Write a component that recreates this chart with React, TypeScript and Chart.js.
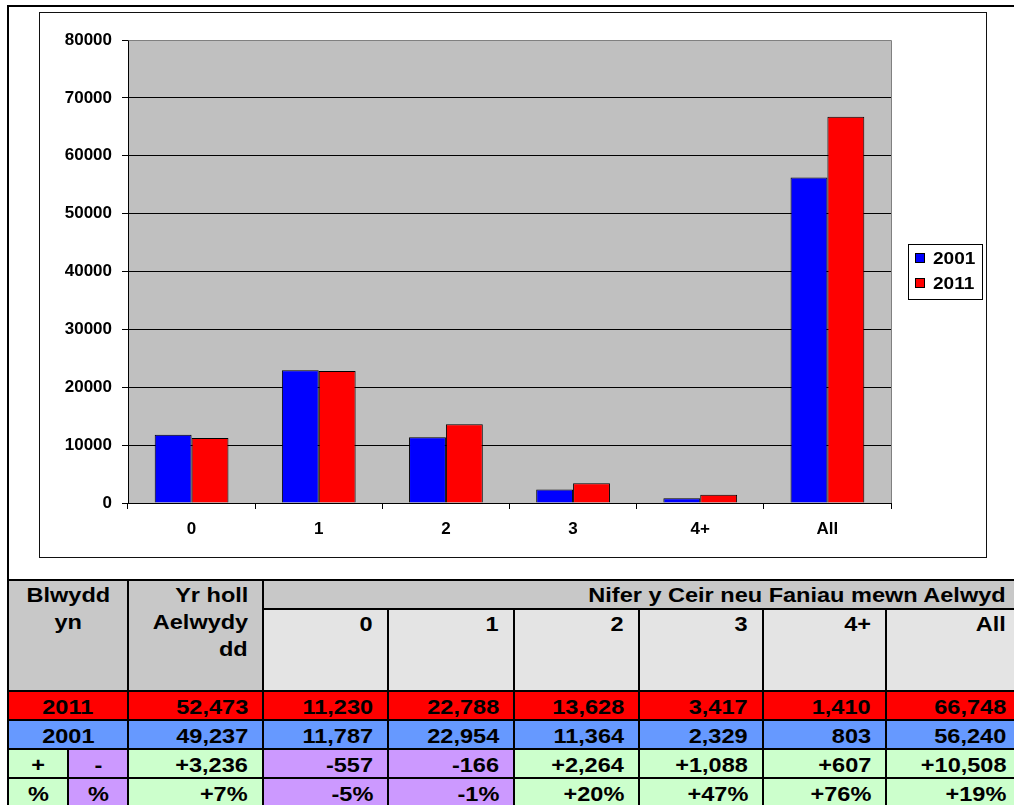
import React, { useEffect, useRef } from 'react';
import { Chart, registerables } from 'chart.js';

Chart.register(...registerables);

// ---- data ----
const categories = ['0', '1', '2', '3', '4+', 'All'];
const seriesLabels = ['2001', '2011'];
const cars2001 = [11787, 22954, 11364, 2329, 803, 56240];
const cars2011 = [11230, 22788, 13628, 3417, 1410, 66748];
const yTickMin = 0;
const yTickMax = 80000;
const yTickStep = 10000;

const households2011 = 52473;
const households2001 = 49237;
const householdsChange = 3236;
const householdsPct = 7;
const categoryChange = [-557, -166, 2264, 1088, 607, 10508];
const categoryPct = [-5, -1, 20, 47, 76, 19];

const yearHeader = ['Blwydd', 'yn'];
const householdsHeader = ['Yr holl', 'Aelwydy', 'dd'];
const carsHeader = 'Nifer y Ceir neu Faniau mewn Aelwyd';
const plusLabel = '+';
const minusLabel = '-';
const pctLabel = '%';

// ---- styles ----
const FONT = '"Liberation Sans", Arial, Helvetica, sans-serif';
const RED = '#ff0000';
const ROWBLUE = '#6699ff';
const GREEN = '#ccffcc';
const PURPLE = '#cc99ff';
const HEAD = '#c8c8c8';
const SUB = '#e4e4e4';

const fmt = (v: number) => v.toLocaleString('en-US');
const signed = (v: number) => (v > 0 ? '+' + fmt(v) : fmt(v));

const plotBackground = {
  id: 'plotBackground',
  beforeDraw(chart: any) {
    const { ctx, chartArea: a } = chart;
    ctx.save();
    ctx.fillStyle = '#c0c0c0';
    ctx.fillRect(a.left, a.top, a.right - a.left, a.bottom - a.top);
    ctx.restore();
  },
  afterDatasetsDraw(chart: any) {
    const { ctx, chartArea: a } = chart;
    ctx.save();
    ctx.strokeStyle = '#808080';
    ctx.lineWidth = 1;
    ctx.beginPath();
    ctx.moveTo(Math.round(a.left) + 0.5, Math.round(a.top) + 0.5);
    ctx.lineTo(Math.round(a.right) + 0.5, Math.round(a.top) + 0.5);
    ctx.lineTo(Math.round(a.right) + 0.5, Math.round(a.bottom));
    ctx.stroke();
    ctx.restore();
  },
};

const boxLegend = {
  id: 'boxLegend',
  afterDraw(chart: any) {
    const { ctx, chartArea: a } = chart;
    const ds = chart.data.datasets;
    const w = 74;
    const h = 55;
    const x = Math.round(a.right + 17);
    const y = Math.round((a.top + a.bottom) / 2 - h / 2);
    ctx.save();
    ctx.fillStyle = '#fff';
    ctx.fillRect(x, y, w, h);
    ctx.strokeStyle = '#000';
    ctx.lineWidth = 1;
    ctx.strokeRect(x + 0.5, y + 0.5, w, h);
    ds.forEach((d: any, i: number) => {
      const cy = y + 14 + i * 25;
      ctx.fillStyle = d.backgroundColor;
      ctx.fillRect(x + 7, cy - 5, 10, 10);
      ctx.strokeStyle = '#000';
      ctx.strokeRect(x + 7.5, cy - 4.5, 9, 9);
      ctx.save();
      ctx.translate(x + 25, cy + 1);
      ctx.scale(1.12, 1);
      ctx.fillStyle = '#000';
      ctx.font = `bold 17px ${FONT}`;
      ctx.textAlign = 'left';
      ctx.textBaseline = 'middle';
      ctx.fillText(d.label, 0, 0);
      ctx.restore();
    });
    ctx.restore();
  },
};

type CellProps = {
  lines: string[];
  bg: string;
  align: 'left' | 'right' | 'center';
  col: string;
  row: string;
  data?: boolean;
};

function Cell({ lines, bg, align, col, row, data }: CellProps) {
  return (
    <div
      style={{
        gridColumn: col,
        gridRow: row,
        background: bg,
        textAlign: align,
        paddingRight: align === 'right' ? 14 : 0,
        paddingTop: data ? 1 : 0,
        fontWeight: 'bold',
        fontSize: 21,
        lineHeight: '27px',
        color: '#000',
        overflow: 'hidden',
        whiteSpace: 'nowrap',
      }}
    >
      {lines.map((t, i) => (
        <div key={i}>
          <span
            style={{
              display: 'inline-block',
              transform: 'scaleX(1.12)',
              transformOrigin: align === 'right' ? '100% 50%' : '50% 50%',
            }}
          >
            {t}
          </span>
        </div>
      ))}
    </div>
  );
}

export default function App() {
  const ref = useRef<HTMLCanvasElement>(null);

  useEffect(() => {
    const tickFont = { family: FONT, size: 17, weight: 'bold' as const };
    const chart = new Chart(ref.current as HTMLCanvasElement, {
      type: 'bar',
      data: {
        labels: categories,
        datasets: [
          {
            label: seriesLabels[0],
            data: cars2001,
            backgroundColor: '#0000ff',
            borderColor: '#000',
            borderWidth: 1,
            categoryPercentage: 0.58,
            barPercentage: 1,
          },
          {
            label: seriesLabels[1],
            data: cars2011,
            backgroundColor: '#ff0000',
            borderColor: '#000',
            borderWidth: 1,
            categoryPercentage: 0.58,
            barPercentage: 1,
          },
        ],
      },
      options: {
        responsive: false,
        animation: false,
        devicePixelRatio: 1,
        layout: { padding: { top: 27, right: 95, bottom: 0, left: 0 } },
        plugins: {
          legend: { display: false },
          tooltip: { enabled: false },
        },
        scales: {
          x: {
            grid: {
              display: true,
              drawOnChartArea: false,
              drawTicks: true,
              tickLength: 6,
              color: '#000',
              offset: true,
            },
            border: { display: true, color: '#000', width: 1 },
            ticks: { font: tickFont, color: '#000', padding: 10 },
            afterFit: (s: any) => {
              s.height = 54;
            },
          },
          y: {
            min: yTickMin,
            max: yTickMax,
            grid: {
              color: (c: any) => (c.tick && c.tick.value === yTickMax ? '#808080' : '#000'),
              tickColor: '#000',
              tickLength: 6,
              drawTicks: true,
            },
            border: { display: true, color: '#000', width: 1 },
            ticks: {
              stepSize: yTickStep,
              font: tickFont,
              color: '#000',
              padding: 10,
              callback: (v: any) => String(v),
            },
            afterFit: (s: any) => {
              s.width = 88;
            },
          },
        },
      },
      plugins: [plotBackground, boxLegend],
    });
    return () => chart.destroy();
  }, []);

  const cells: CellProps[] = [];
  cells.push({ lines: yearHeader, bg: HEAD, align: 'center', col: '1 / span 2', row: '1 / span 2' });
  cells.push({ lines: householdsHeader, bg: HEAD, align: 'right', col: '3', row: '1 / span 2' });
  cells.push({ lines: [carsHeader], bg: HEAD, align: 'right', col: '4 / span 6', row: '1' });
  categories.forEach((c, i) =>
    cells.push({ lines: [c], bg: SUB, align: 'right', col: String(4 + i), row: '2' })
  );
  // 2011 row
  cells.push({ lines: [seriesLabels[1]], bg: RED, align: 'center', col: '1 / span 2', row: '3', data: true });
  cells.push({ lines: [fmt(households2011)], bg: RED, align: 'right', col: '3', row: '3', data: true });
  cars2011.forEach((v, i) =>
    cells.push({ lines: [fmt(v)], bg: RED, align: 'right', col: String(4 + i), row: '3', data: true })
  );
  // 2001 row
  cells.push({ lines: [seriesLabels[0]], bg: ROWBLUE, align: 'center', col: '1 / span 2', row: '4', data: true });
  cells.push({ lines: [fmt(households2001)], bg: ROWBLUE, align: 'right', col: '3', row: '4', data: true });
  cars2001.forEach((v, i) =>
    cells.push({ lines: [fmt(v)], bg: ROWBLUE, align: 'right', col: String(4 + i), row: '4', data: true })
  );
  // change row
  cells.push({ lines: [plusLabel], bg: GREEN, align: 'center', col: '1', row: '5', data: true });
  cells.push({ lines: [minusLabel], bg: PURPLE, align: 'center', col: '2', row: '5', data: true });
  cells.push({
    lines: [signed(householdsChange)],
    bg: householdsChange >= 0 ? GREEN : PURPLE,
    align: 'right',
    col: '3',
    row: '5',
    data: true,
  });
  categoryChange.forEach((v, i) =>
    cells.push({
      lines: [signed(v)],
      bg: v >= 0 ? GREEN : PURPLE,
      align: 'right',
      col: String(4 + i),
      row: '5',
      data: true,
    })
  );
  // percent row
  cells.push({ lines: [pctLabel], bg: GREEN, align: 'center', col: '1', row: '6', data: true });
  cells.push({ lines: [pctLabel], bg: PURPLE, align: 'center', col: '2', row: '6', data: true });
  cells.push({
    lines: [signed(householdsPct) + '%'],
    bg: householdsPct >= 0 ? GREEN : PURPLE,
    align: 'right',
    col: '3',
    row: '6',
    data: true,
  });
  categoryPct.forEach((v, i) =>
    cells.push({
      lines: [signed(v) + '%'],
      bg: v >= 0 ? GREEN : PURPLE,
      align: 'right',
      col: String(4 + i),
      row: '6',
      data: true,
    })
  );

  return (
    <div
      style={{
        position: 'absolute',
        left: 0,
        top: 0,
        width: 1014,
        height: 805,
        overflow: 'hidden',
        background: '#fff',
        fontFamily: FONT,
      }}
    >
      <div
        style={{
          position: 'absolute',
          left: 7,
          top: 5,
          width: 1200,
          height: 1000,
          borderTop: '2px solid #000',
          borderLeft: '2px solid #000',
        }}
      />
      <div
        style={{
          position: 'absolute',
          left: 39,
          top: 12,
          width: 948,
          height: 546,
          boxSizing: 'border-box',
          border: '1px solid #111',
          background: '#fff',
        }}
      >
        <canvas ref={ref} width={946} height={544} style={{ display: 'block', width: 946, height: 544 }} />
      </div>
      <div
        style={{
          position: 'absolute',
          left: 7,
          top: 579,
          padding: 2,
          background: '#000',
          display: 'grid',
          gridTemplateColumns: '58px 58px 133px 123px 124px 123px 122px 121px 133px',
          gridTemplateRows: '27px 80px 27px 27px 27px 27px',
          gap: 2,
        }}
      >
        {cells.map((c, i) => (
          <Cell key={i} {...c} />
        ))}
      </div>
    </div>
  );
}
